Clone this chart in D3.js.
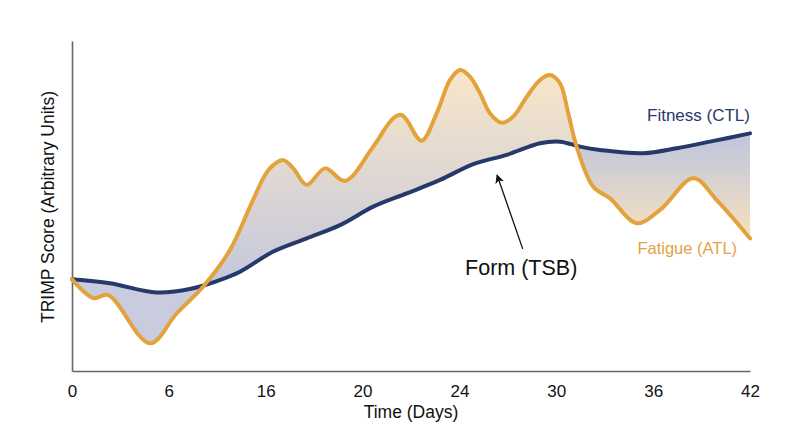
<!DOCTYPE html>
<html>
<head>
<meta charset="utf-8">
<script src="https://cdn.jsdelivr.net/npm/d3@7"></script>
<style>
    body { margin: 0; background: #fff; }
    text { font-family: "Liberation Sans", Arial, Helvetica, sans-serif; }
</style>
</head>
<body>
<div id="chart"></div>
<script>
//tick slots and their printed labels
var tickDays = [0, 6, 12, 18, 24, 30, 36, 42];
var tickLabels = ["0", "6", "16", "20", "24", "30", "36", "42"];

//fitness (CTL)
var fitnessDays = [0, 2.35, 5.25, 7.51, 9.17, 10.41, 12.47, 14.54, 16.6, 18.66, 20.73, 22.8, 24.86, 26.93, 28.99, 30.23, 31.47, 32.71, 35.39, 37.46, 39.52, 42];
var fitnessValues = [27.8, 26.6, 23.8, 25.1, 27.6, 30.1, 36.2, 40.2, 44.2, 49.8, 53.8, 57.9, 62.7, 65.5, 69.0, 69.5, 68.0, 67.0, 66.0, 67.5, 69.5, 72.0];

//fatigue (ATL)
var fatigueDays = [0, 1.32, 2.25, 4.83, 6.49, 8.13, 9.79, 11.03, 11.96, 12.47, 13.09, 13.71, 14.54, 15.68, 16.91, 18.66, 19.9, 20.42, 20.73, 21.66, 22.59, 23.42, 24.04, 24.65, 25.27, 25.89, 26.62, 27.34, 28.17, 28.99, 29.61, 30.23, 30.74, 31.26, 32.29, 33.33, 34.98, 36.43, 38.49, 39.94, 42];
var fatigueValues = [27.8, 22.1, 23.0, 8.4, 17.5, 25.6, 36.7, 49.8, 59.4, 62.4, 63.9, 61.4, 56.4, 61.4, 57.6, 68.0, 76.6, 77.6, 76.1, 69.8, 78.1, 88.2, 91.2, 89.2, 84.2, 78.1, 75.2, 77.1, 83.1, 88.2, 89.7, 87.2, 78.1, 68.0, 55.8, 52.3, 44.8, 48.8, 58.4, 51.8, 40.2];

//set svg and chart dimensions
var svgWidth = 800;
var svgHeight = 447;
var margin = { top: 41, right: 50, bottom: 76, left: 72 };
var width = svgWidth - margin.left - margin.right;
var height = svgHeight - margin.top - margin.bottom;

var navy = "#27386b";
var orange = "#e4a23c";

var svg = d3.select("#chart").append("svg")
    .attr("width", svgWidth)
    .attr("height", svgHeight);

var chartGroup = svg.append("g")
    .attr("transform", `translate(${margin.left}, ${margin.top})`);

//scales
var xScale = d3.scaleLinear().domain([0, 42]).range([0, width]);
var yScale = d3.scaleLinear().domain([0, 100]).range([height, 0]);

var fitness = fitnessDays.map((d, i) => ({ day: d, value: fitnessValues[i] }));
var fatigue = fatigueDays.map((d, i) => ({ day: d, value: fatigueValues[i] }));

var curve = d3.curveCatmullRom.alpha(0.5);

var line = d3.line()
    .x(d => xScale(d.day))
    .y(d => yScale(d.value))
    .curve(curve);

//areas reaching to the top or the bottom of the plot, used for clipping
function areaTo(edge) {
    return d3.area()
        .x(d => xScale(d.day))
        .y0(edge)
        .y1(d => yScale(d.value))
        .curve(curve);
}

var defs = svg.append("defs");

//gradient where fatigue sits above fitness
var gradUp = defs.append("linearGradient")
    .attr("id", "gradUp")
    .attr("gradientUnits", "userSpaceOnUse")
    .attr("x1", 0).attr("x2", 0)
    .attr("y1", 30).attr("y2", 245);
gradUp.append("stop").attr("offset", "0%").attr("stop-color", "#f8e6c8");
gradUp.append("stop").attr("offset", "100%").attr("stop-color", "#c4c8dd");

//gradient where fatigue sits below fitness
var gradDown = defs.append("linearGradient")
    .attr("id", "gradDown")
    .attr("gradientUnits", "userSpaceOnUse")
    .attr("x1", 0).attr("x2", 0)
    .attr("y1", 100).attr("y2", 240);
gradDown.append("stop").attr("offset", "0%").attr("stop-color", "#c3c7dc");
gradDown.append("stop").attr("offset", "72%").attr("stop-color", "#f9e2bd");
gradDown.append("stop").attr("offset", "90%").attr("stop-color", "#cbcddf");
gradDown.append("stop").attr("offset", "100%").attr("stop-color", "#c9cbde");

defs.append("clipPath").attr("id", "belowFatigue")
    .append("path").attr("d", areaTo(height)(fatigue));
defs.append("clipPath").attr("id", "aboveFatigue")
    .append("path").attr("d", areaTo(0)(fatigue));

//form (TSB) fill between the two curves
chartGroup.append("path")
    .attr("d", areaTo(0)(fitness))
    .attr("clip-path", "url(#belowFatigue)")
    .attr("fill", "url(#gradUp)");

chartGroup.append("path")
    .attr("d", areaTo(height)(fitness))
    .attr("clip-path", "url(#aboveFatigue)")
    .attr("fill", "url(#gradDown)");

//axes, plain lines without ticks
var bottomAxis = d3.axisBottom(xScale)
    .tickValues(tickDays)
    .tickSize(0)
    .tickPadding(14)
    .tickFormat((d, i) => tickLabels[i]);

var xAxis = chartGroup.append("g")
    .attr("transform", `translate(0, ${height})`)
    .call(bottomAxis);
xAxis.select(".domain").attr("stroke", "#666").attr("stroke-width", 1.6);
xAxis.selectAll("text")
    .attr("font-size", "17px")
    .attr("fill", "#111")
    .style("font-family", "'Liberation Sans', Arial, sans-serif");

var yAxis = chartGroup.append("g")
    .call(d3.axisLeft(yScale).tickValues([]).tickSize(0));
yAxis.select(".domain").attr("stroke", "#666").attr("stroke-width", 1.6);

//lines
chartGroup.append("path")
    .datum(fitness)
    .attr("d", line)
    .attr("fill", "none")
    .attr("stroke", navy)
    .attr("stroke-width", 4)
    .attr("stroke-linecap", "round");

chartGroup.append("path")
    .datum(fatigue)
    .attr("d", line)
    .attr("fill", "none")
    .attr("stroke", orange)
    .attr("stroke-width", 4)
    .attr("stroke-linecap", "round");

//series labels
chartGroup.append("text")
    .attr("x", xScale(42))
    .attr("y", yScale(75.8))
    .attr("text-anchor", "end")
    .attr("font-size", "17px")
    .attr("fill", navy)
    .text("Fitness (CTL)");

chartGroup.append("text")
    .attr("x", xScale(41.2))
    .attr("y", yScale(35.5))
    .attr("text-anchor", "end")
    .attr("font-size", "16.5px")
    .attr("fill", "#e0a444")
    .text("Fatigue (ATL)");

//form annotation with arrow
defs.append("marker")
    .attr("id", "arrowHead")
    .attr("viewBox", "0 0 10 10")
    .attr("refX", 9)
    .attr("refY", 5)
    .attr("markerWidth", 9)
    .attr("markerHeight", 9)
    .attr("markerUnits", "userSpaceOnUse")
    .attr("orient", "auto")
    .append("path")
    .attr("d", "M0,0 L10,5 L0,10 L2.5,5 Z")
    .attr("fill", "#111");

chartGroup.append("line")
    .attr("x1", xScale(27.92))
    .attr("y1", yScale(37.0))
    .attr("x2", xScale(26.33))
    .attr("y2", yScale(59.4))
    .attr("stroke", "#111")
    .attr("stroke-width", 1.3)
    .attr("marker-end", "url(#arrowHead)");

chartGroup.append("text")
    .attr("x", xScale(24.35))
    .attr("y", yScale(29.1))
    .attr("font-size", "21.5px")
    .attr("fill", "#111")
    .text("Form (TSB)");

//axis titles
chartGroup.append("text")
    .attr("x", width / 2)
    .attr("y", height + 47)
    .attr("text-anchor", "middle")
    .attr("font-size", "17.5px")
    .attr("fill", "#111")
    .text("Time (Days)");

chartGroup.append("text")
    .attr("transform", `translate(${-18}, ${166}) rotate(-90)`)
    .attr("text-anchor", "middle")
    .attr("font-size", "17.5px")
    .attr("fill", "#111")
    .text("TRIMP Score (Arbitrary Units)");
</script>
</body>
</html>
